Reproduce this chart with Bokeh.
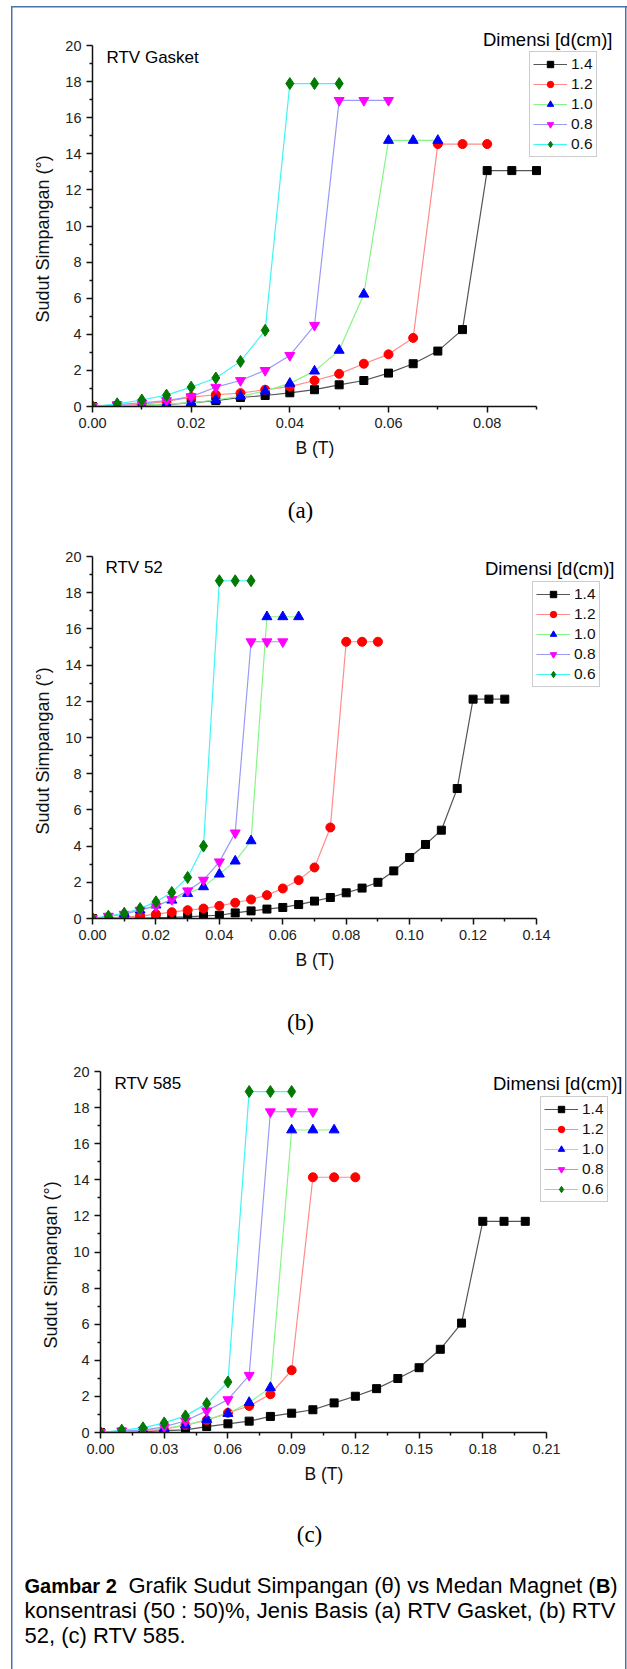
from bokeh.plotting import figure
from bokeh.models import Range1d, FixedTicker, Label, Legend, LegendItem, Title
from bokeh.core.properties import value
from bokeh.layouts import column
from bokeh.embed import file_html
from bokeh.resources import INLINE

# ---------------- data ----------------
series_names = ["1.4", "1.2", "1.0", "0.8", "0.6"]

# (a) RTV Gasket
B_a = [0.000, 0.005, 0.010, 0.015, 0.020, 0.025, 0.030, 0.035, 0.040, 0.045,
       0.050, 0.055, 0.060, 0.065, 0.070, 0.075, 0.080, 0.085, 0.090]
a_14 = [0.00, 0.03, 0.07, 0.12, 0.20, 0.33, 0.50, 0.61, 0.76, 0.93, 1.20, 1.44, 1.85, 2.37, 3.07, 4.26, 13.07, 13.07, 13.07]
a_12 = [0.00, 0.05, 0.12, 0.28, 0.52, 0.65, 0.74, 0.93, 1.10, 1.44, 1.81, 2.37, 2.89, 3.80, 14.54, 14.54, 14.54]
a_10 = [0.00, 0.03, 0.07, 0.15, 0.20, 0.36, 0.57, 0.85, 1.28, 1.96, 3.11, 6.22, 14.74, 14.74, 14.74]
a_08 = [0.00, 0.10, 0.20, 0.33, 0.55, 1.07, 1.44, 2.00, 2.83, 4.50, 16.96, 16.96, 16.96]
a_06 = [0.00, 0.15, 0.36, 0.63, 1.07, 1.58, 2.50, 4.22, 17.89, 17.89, 17.89]

# (b) RTV 52
B_b = [0.000, 0.005, 0.010, 0.015, 0.020, 0.025, 0.030, 0.035, 0.040, 0.045,
       0.050, 0.055, 0.060, 0.065, 0.070, 0.075, 0.080, 0.085, 0.090, 0.095,
       0.100, 0.105, 0.110, 0.115, 0.120, 0.125, 0.130]
b_14 = [0.00, 0.00, 0.01, 0.02, 0.03, 0.06, 0.09, 0.15, 0.18, 0.31, 0.42, 0.52, 0.61, 0.77, 0.96, 1.16, 1.42, 1.68,
        2.00, 2.63, 3.37, 4.09, 4.88, 7.18, 12.12, 12.12, 12.12]
b_12 = [0.00, 0.04, 0.09, 0.13, 0.24, 0.35, 0.46, 0.55, 0.70, 0.87, 1.05, 1.29, 1.66, 2.12, 2.82, 5.03, 15.29, 15.29, 15.29]
b_10 = [0.00, 0.09, 0.28, 0.46, 0.74, 1.01, 1.38, 1.75, 2.45, 3.17, 4.29, 16.67, 16.67, 16.67]
b_08 = [0.00, 0.13, 0.24, 0.46, 0.68, 1.05, 1.53, 2.12, 3.13, 4.73, 15.29, 15.29, 15.29]
b_06 = [0.00, 0.13, 0.28, 0.55, 0.92, 1.44, 2.27, 4.00, 18.66, 18.66, 18.66]

# (c) RTV 585
B_c = [0.00, 0.01, 0.02, 0.03, 0.04, 0.05, 0.06, 0.07, 0.08, 0.09, 0.10,
       0.11, 0.12, 0.13, 0.14, 0.15, 0.16, 0.17, 0.18, 0.19, 0.20]
c_14 = [0.00, 0.02, 0.05, 0.10, 0.15, 0.33, 0.48, 0.63, 0.89, 1.07, 1.26, 1.64, 2.01, 2.43, 2.99, 3.59, 4.61, 6.06,
        11.70, 11.70, 11.70]
c_12 = [0.00, 0.03, 0.08, 0.18, 0.41, 0.68, 1.09, 1.47, 2.12, 3.45, 14.14, 14.14, 14.14]
c_10 = [0.00, 0.04, 0.13, 0.22, 0.41, 0.72, 1.05, 1.66, 2.49, 16.76, 16.76, 16.76]
c_08 = [0.00, 0.09, 0.13, 0.31, 0.65, 1.20, 1.82, 3.17, 17.77, 17.77, 17.77]
c_06 = [0.00, 0.13, 0.26, 0.53, 0.92, 1.60, 2.80, 18.89, 18.89, 18.89]

# ticks
y_ticks = [0, 2, 4, 6, 8, 10, 12, 14, 16, 18, 20]
y_tick_labels = ["0", "2", "4", "6", "8", "10", "12", "14", "16", "18", "20"]
y_minor = [1, 3, 5, 7, 9, 11, 13, 15, 17, 19]

xa_ticks = [0.00, 0.02, 0.04, 0.06, 0.08]
xa_labels = ["0.00", "0.02", "0.04", "0.06", "0.08"]
xa_minor = [0.01, 0.03, 0.05, 0.07, 0.09]

xb_ticks = [0.00, 0.02, 0.04, 0.06, 0.08, 0.10, 0.12, 0.14]
xb_labels = ["0.00", "0.02", "0.04", "0.06", "0.08", "0.10", "0.12", "0.14"]
xb_minor = [0.01, 0.03, 0.05, 0.07, 0.09, 0.11, 0.13]

xc_ticks = [0.00, 0.03, 0.06, 0.09, 0.12, 0.15, 0.18, 0.21]
xc_labels = ["0.00", "0.03", "0.06", "0.09", "0.12", "0.15", "0.18", "0.21"]
xc_minor = [0.015, 0.045, 0.075, 0.105, 0.135, 0.165, 0.195]

x_title = "B (T)"
y_title = "Sudut Simpangan (°)"
legend_title = "Dimensi [d(cm)]"
caption_l1_bold = "Gambar 2"
caption_l1 = "Grafik Sudut Simpangan (θ) vs Medan Magnet ("
caption_l1_bold_b = "B"
caption_l1_end = ")"
caption_l2 = "konsentrasi (50 : 50)%, Jenis Basis (a) RTV Gasket, (b) RTV"
caption_l3 = "52, (c) RTV 585."

# ---------------- styles ----------------
FONT = "Liberation Sans"
W = 627
line_colors = ["#555555", "#ff8c8c", "#86f586", "#9a9af5", "#3ff5f5"]
markers = ["square", "circle", "triangle", "inverted_triangle", "diamond"]
marker_colors = ["#000000", "#ff0000", "#0000ff", "#ff00ff", "#007a00"]
marker_sizes = [8, 9, 10, 10, 12]


def frame_styles(top_line=False):
    if top_line:
        return {
            "background-image": "linear-gradient(#4a72a8,#4a72a8), linear-gradient(#4a72a8,#4a72a8), "
                                "linear-gradient(#4a72a8,#4a72a8)",
            "background-size": "1.5px 100%, 1.5px 100%, 616px 1.5px",
            "background-position": "10.5px 5.5px, 625px 5.5px, 11px 5.5px",
            "background-repeat": "no-repeat",
        }
    return {
        "background-image": "linear-gradient(#4a72a8,#4a72a8), linear-gradient(#4a72a8,#4a72a8)",
        "background-size": "1.5px 100%, 1.5px 100%",
        "background-position": "10.5px 0px, 625px 0px",
        "background-repeat": "no-repeat",
    }


def add_text(p, x, y, s, size, font=FONT, align="left", style="normal", color="#000000"):
    p.add_layout(Label(x=x, y=y, x_units="canvas", y_units="canvas", text=s,
                       text_font=font, text_font_size=f"{size}px", text_align=align,
                       text_baseline="middle", text_font_style=style, text_color=color))


def panel(height, left, axis_right, axis_top, axis_bottom, xmax, xt, xl, xm, B, series,
          title, title_xy, legend_loc, legend_title_xy, xlabel_offset, top_line=False):
    # the frame reaches the right and top edges; the axes are bounded to the data extent
    x_end = xmax * (W - left) / (axis_right - left)
    y_end = 20 * axis_bottom / (axis_bottom - axis_top)
    p = figure(width=W, height=height, x_range=Range1d(0, x_end), y_range=Range1d(0, y_end),
               output_backend="svg", toolbar_location=None,
               min_border_left=left, min_border_right=0,
               min_border_top=0, min_border_bottom=height - axis_bottom,
               styles=frame_styles(top_line))
    p.frame_align = False
    p.outline_line_color = None
    p.xgrid.visible = False
    p.ygrid.visible = False
    p.background_fill_color = None
    p.border_fill_color = None

    p.xaxis.ticker = FixedTicker(ticks=xt, minor_ticks=xm)
    p.xaxis.major_label_overrides = {t: l for t, l in zip(xt, xl)}
    p.xaxis.bounds = (0, xmax)
    p.yaxis.ticker = FixedTicker(ticks=y_ticks, minor_ticks=y_minor)
    p.yaxis.major_label_overrides = {t: l for t, l in zip(y_ticks, y_tick_labels)}
    p.yaxis.bounds = (0, 20)
    for ax in (p.xaxis[0], p.yaxis[0]):
        ax.axis_line_color = "#111111"
        ax.axis_line_width = 1.5
        ax.major_tick_out = 6
        ax.major_tick_in = 0
        ax.minor_tick_out = 3
        ax.minor_tick_in = 0
        ax.major_tick_line_color = "#111111"
        ax.minor_tick_line_color = "#111111"
        ax.major_tick_line_width = 1.5
        ax.minor_tick_line_width = 1.5
        ax.major_label_text_font = FONT
        ax.major_label_text_font_size = "14.5px"
        ax.major_label_text_color = "#222222"
        ax.major_label_standoff = 5
    p.add_layout(Title(text=y_title, align="left", offset=84, vertical_align="middle",
                       text_font=FONT, text_font_size="18px", text_font_style="normal",
                       text_color="#111111", standoff=18), "left")
    p.add_layout(Title(text=x_title, align="left", offset=xlabel_offset, vertical_align="middle",
                       text_font=FONT, text_font_size="17.5px", text_font_style="normal",
                       text_color="#111111", standoff=12), "below")

    items = []
    for name, vals, lc, mk, mc, ms in zip(series_names, series, line_colors, markers,
                                          marker_colors, marker_sizes):
        xs = B[:len(vals)]
        lr = p.line(xs, vals, line_color=lc, line_width=1.2)
        sr = p.scatter(xs, vals, marker=mk, size=ms, fill_color=mc, line_color=mc)
        items.append(LegendItem(label=name, renderers=[lr, sr]))

    legend = Legend(items=items, location=legend_loc, padding=3, spacing=2, margin=0,
                    glyph_width=34, glyph_height=16, label_height=16, label_standoff=4,
                    label_text_font=FONT, label_text_font_size="15.5px", label_text_color="#111111",
                    border_line_color="#9a9a9a", border_line_width=1.5,
                    background_fill_color="white", background_fill_alpha=1.0)
    p.add_layout(legend)

    add_text(p, title_xy[0], title_xy[1], title, 17)
    add_text(p, legend_title_xy[0], legend_title_xy[1], legend_title, 18.5, align="right")
    return p


def text_strip(height, items):
    t = figure(width=W, height=height, x_range=Range1d(0, W), y_range=Range1d(height, 0),
               x_axis_type=None, y_axis_type=None, output_backend="svg", toolbar_location=None,
               min_border=0, styles=frame_styles())
    t.frame_align = False
    t.outline_line_color = None
    t.background_fill_color = None
    t.border_fill_color = None
    t.grid.visible = False
    for (x, y, s, size, font, align, style) in items:
        t.text(x=[x], y=[y], text=[s], text_font=value(font), text_font_size=value(f"{size}px"),
               text_align=align, text_baseline="middle", text_font_style=style, text_color="#000000")
    return t


p1 = panel(480, 92, 536, 45, 406, 0.09, xa_ticks, xa_labels, xa_minor, B_a,
           [a_14, a_12, a_10, a_08, a_06], "RTV Gasket", (106, 57), (437, 249), (612, 39), 203,
           top_line=True)
t1 = text_strip(60, [(300, 30, "(a)", 23, "Liberation Serif", "center", "normal")])

p2 = panel(450, 92, 536, 16, 378, 0.14, xb_ticks, xb_labels, xb_minor, B_b,
           [b_14, b_12, b_10, b_08, b_06], "RTV 52", (105, 27), (440, 231), (614, 28), 203)
t2 = text_strip(60, [(300, 32, "(b)", 23, "Liberation Serif", "center", "normal")])

p3 = panel(450, 100, 546, 21, 382, 0.21, xc_ticks, xc_labels, xc_minor, B_c,
           [c_14, c_12, c_10, c_08, c_06], "RTV 585", (114, 33), (440, 230), (622, 33), 204)

CX = 24
t3 = text_strip(169, [
    (309, 34, "(c)", 23, "Liberation Serif", "center", "normal"),
    (CX, 85, caption_l1_bold, 20, FONT, "left", "bold"),
    (595, 85, caption_l1, 22, FONT, "right", "normal"),
    (610, 85, caption_l1_bold_b, 20, FONT, "right", "bold"),
    (617, 85, caption_l1_end, 22, FONT, "right", "normal"),
    (CX, 110, caption_l2, 22, FONT, "left", "normal"),
    (CX, 135, caption_l3, 22, FONT, "left", "normal"),
])

layout = column(p1, t1, p2, t2, p3, t3, spacing=0)
open("out.html", "w").write(file_html(layout, INLINE))
